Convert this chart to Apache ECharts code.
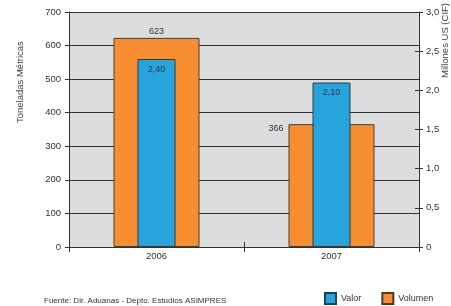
<!DOCTYPE html>
<html style="height: 100%;">
<head>
    <meta charset="utf-8">
    <script src="https://cdn.jsdelivr.net/npm/echarts@6/dist/echarts.min.js"></script>
</head>
<body style="height: 100%; margin: 0; background-color: #fff;">
<div id="container" style="width: 451px; height: 306px;"></div>
<script type="text/javascript">
var years = ['2006', '2007'];
var volumen = [623, 366];      // toneladas metricas
var valor = [2.40, 2.10];      // millones US (CIF)
var leftTicks = [0, 700, 100];
var rightTicks = [0, 3, 0.5];

var FONT = '"Liberation Sans", Arial, sans-serif';
var dom = document.getElementById('container');
var myChart = echarts.init(dom, null, { renderer: 'canvas' });

function comma(v, d) {
    return v.toFixed(d).replace('.', ',');
}

var option = {
    animation: false,
    textStyle: { fontFamily: FONT },
    grid: {
        left: 69, right: 32, top: 12, height: 235,
        show: true, backgroundColor: '#dcdddf', borderWidth: 0
    },
    legend: {
        data: ['Valor', 'Volumen'],
        left: 324, top: 292, padding: 0,
        itemWidth: 11, itemHeight: 11, itemGap: 20,
        icon: 'rect',
        textStyle: { fontSize: 9, color: '#333', fontFamily: FONT }
    },
    graphic: [
        {
            type: 'text', x: 20, y: 123, rotation: Math.PI / 2,
            style: { text: 'Toneladas Métricas', fontSize: 9.5, fill: '#444', fontFamily: FONT,
                     align: 'left', verticalAlign: 'middle' }
        },
        {
            type: 'text', x: 445, y: 3, rotation: Math.PI / 2,
            style: { text: 'Millones US (CIF)', fontSize: 9.5, fill: '#444', fontFamily: FONT,
                     align: 'right', verticalAlign: 'middle' }
        },
        {
            type: 'text', x: 44, y: 301,
            style: { text: 'Fuente: Dir. Aduanas - Depto. Estudios ASIMPRES', fontSize: 8,
                     fill: '#333', fontFamily: FONT, align: 'left', verticalAlign: 'middle' }
        }
    ],
    xAxis: [
        {
            type: 'category', data: years, position: 'bottom',
            axisLine: { lineStyle: { color: '#333', width: 1 } },
            axisTick: { show: true, length: 5, lineStyle: { color: '#333' } },
            axisLabel: { fontSize: 9.5, color: '#333', margin: 4, fontFamily: FONT }
        },
        {
            type: 'category', data: years, position: 'bottom',
            axisLine: { show: false },
            axisTick: { show: true, inside: true, length: 5, lineStyle: { color: '#333' } },
            axisLabel: { show: false }
        }
    ],
    yAxis: [
        {
            type: 'value', position: 'left',
            min: leftTicks[0], max: leftTicks[1], interval: leftTicks[2],
            axisLine: { show: true, lineStyle: { color: '#333' } },
            axisTick: { show: true, length: 4, lineStyle: { color: '#333' } },
            axisLabel: { fontSize: 9.5, color: '#333', margin: 8, fontFamily: FONT },
            splitLine: { show: true, lineStyle: { color: '#333', width: 1 } }
        },
        {
            type: 'value', position: 'right',
            min: rightTicks[0], max: rightTicks[1], interval: rightTicks[2],
            axisLine: { show: true, lineStyle: { color: '#333' } },
            axisTick: { show: true, length: 4, lineStyle: { color: '#333' } },
            axisLabel: {
                fontSize: 9.5, color: '#333', margin: 7, fontFamily: FONT,
                formatter: function (v) { return v === 0 ? '0' : comma(v, 1); }
            },
            splitLine: { show: false }
        },
        {
            type: 'value', position: 'right',
            min: rightTicks[0], max: rightTicks[1], interval: rightTicks[2],
            axisLine: { show: false },
            axisTick: { show: true, inside: true, length: 4, lineStyle: { color: '#333' } },
            axisLabel: { show: false },
            splitLine: { show: false }
        }
    ],
    series: [
        {
            name: 'Volumen', type: 'bar', xAxisIndex: 0, yAxisIndex: 0,
            barWidth: 86,
            itemStyle: { color: '#f68d2e', borderColor: '#4a3b2e', borderWidth: 1 },
            data: volumen.map(function (v, i) {
                var item = { value: v };
                if (i === 1) {
                    item.label = { position: [-5, 4], align: 'right', verticalAlign: 'middle' };
                }
                return item;
            }),
            label: {
                show: true, position: 'top', distance: 2, fontSize: 9, color: '#333',
                fontFamily: FONT
            }
        },
        {
            name: 'Valor', type: 'bar', xAxisIndex: 1, yAxisIndex: 1,
            barWidth: 38,
            itemStyle: { color: '#28a4dd', borderColor: '#2e3a44', borderWidth: 1 },
            data: valor,
            label: {
                show: true, position: 'insideTop', distance: 6, fontSize: 9, color: '#1f3347',
                fontFamily: FONT,
                formatter: function (p) { return comma(p.value, 2); }
            }
        }
    ]
};

myChart.setOption(option);
</script>
</body>
</html>
